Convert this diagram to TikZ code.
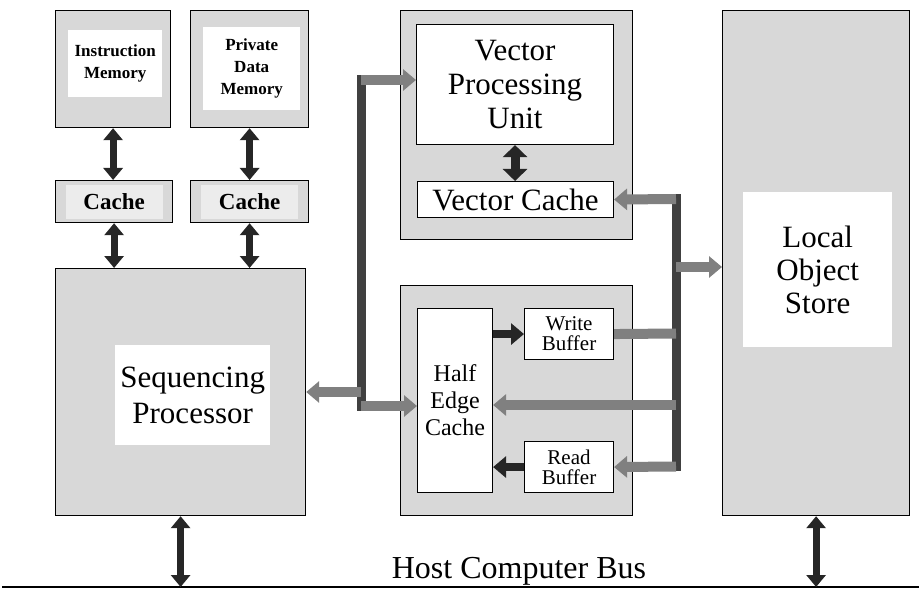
\documentclass[tikz,border=0pt]{standalone}
\usepackage{fontspec}
\setmainfont{Liberation Serif}
\usetikzlibrary{arrows.meta}
\definecolor{boxgray}{RGB}{216,216,216}
\definecolor{cachefill}{RGB}{236,236,236}
\begin{document}
\begin{tikzpicture}[x=1pt,y=-1pt,
  grp/.style={draw=black, line width=1.2pt, fill=boxgray, inner sep=0pt, anchor=north west},
  wht/.style={fill=white, inner sep=0pt, anchor=north west, align=center},
  wbox/.style={draw=black, line width=1.1pt, fill=white, inner sep=0pt, anchor=north west, align=center},
  big/.style={font=\fontsize{31}{34}\selectfont},
  small/.style={font=\fontsize{17}{22}\bfseries\selectfont},
  blk/.style={line width=7pt, draw=black!85, {Triangle[length=12pt,width=19pt]}-{Triangle[length=12pt,width=19pt]}},
  vbus/.style={line width=9pt, draw=black!75, line cap=rect},
  hbus/.style={line width=10pt, draw=black!50},
  htip/.style={-{Triangle[length=13pt,width=21pt]}},
]
\useasboundingbox (0,0) rectangle (919,591);

% left column
\node[grp, minimum width=115pt, minimum height=117pt] (im) at (55,10) {};
\node[wht, minimum width=94pt, minimum height=67pt, small] (imw) at (68,30) {Instruction\\Memory};
\node[grp, minimum width=118pt, minimum height=117pt] (pdm) at (190,10) {};
\node[wht, minimum width=97pt, minimum height=83pt, small] (pdmw) at (203,27) {Private\\Data\\Memory};

\node[grp, minimum width=117pt, minimum height=42pt] (c1) at (55,180) {};
\node[inner sep=0pt, fill=cachefill, minimum width=97pt, minimum height=34pt, font=\fontsize{23}{26}\bfseries\selectfont] (c1t) at (c1.center) {Cache};
\node[grp, minimum width=118pt, minimum height=42pt] (c2) at (190,180) {};
\node[inner sep=0pt, fill=cachefill, minimum width=97pt, minimum height=34pt, font=\fontsize{23}{26}\bfseries\selectfont] (c2t) at (c2.center) {Cache};

\node[grp, minimum width=250pt, minimum height=247pt] (sp) at (55,268) {};
\node[wht, minimum width=155pt, minimum height=100pt, font=\fontsize{31}{36}\selectfont] (spw) at (115,345) {Sequencing\\Processor};

% vector group
\node[grp, minimum width=232pt, minimum height=229pt] (vg) at (400,10) {};
\node[wbox, minimum width=197pt, minimum height=120pt, big] (vpu) at (416,24) {Vector\\Processing\\Unit};
\node[wbox, minimum width=196pt, minimum height=36pt, big] (vc) at (417,181) {Vector Cache};

% half edge group
\node[grp, minimum width=232pt, minimum height=230pt] (hg) at (400,285) {};
\node[wbox, minimum width=75pt, minimum height=184pt, font=\fontsize{24}{27}\selectfont] (hec) at (417,308) {Half\\Edge\\Cache};
\node[wbox, minimum width=89pt, minimum height=51pt, font=\fontsize{21}{20}\selectfont] (wb) at (524,308) {Write\\Buffer};
\node[wbox, minimum width=89pt, minimum height=51pt, font=\fontsize{21}{20}\selectfont] (rb) at (524,441) {Read\\Buffer};

% local object store
\node[grp, minimum width=187pt, minimum height=505pt] (los) at (722,10) {};
\node[wht, minimum width=149pt, minimum height=155pt, font=\fontsize{31}{33}\selectfont] (losw) at (743,192) {Local\\Object\\Store};

% host bus
\coordinate (busL) at (2,587);
\coordinate (busR) at (919,587);
\draw[line width=2pt] (busL) -- (busR);
\node[font=\fontsize{32}{34}\selectfont] (bust) at (519,571) {Host Computer Bus};

% black double arrows
\draw[blk] (im.south) -- (im.south |- c1.north);
\draw[blk] (c1.south) -- (c1.south |- sp.north);
\draw[blk] (pdm.south) -- (pdm.south |- c2.north);
\draw[blk] (c2.south) -- (c2.south |- sp.north);
\draw[blk, line width=9pt, {Triangle[length=12pt,width=24pt]}-{Triangle[length=12pt,width=24pt]}] (vpu.south) -- (vpu.south |- vc.north);
\draw[blk] (sp.south) -- (sp.south |- busL);
\draw[blk] (los.south) -- (los.south |- busL);

% internal half edge arrows
\draw[line width=8pt, draw=black!85, htip] (wb.west -| hec.east) -- (wb.west);
\draw[line width=8pt, draw=black!85, htip] (rb.west) -- (rb.west -| hec.east);

% left bus
\coordinate (lbt) at (361,80);
\coordinate (lbm) at (361,392);
\coordinate (lbb) at (361,406);
\draw[vbus] (lbt) -- (lbb);
\draw[hbus, htip] (lbt) -- (lbt -| vpu.west);
\draw[hbus, htip] (lbm) -- (lbm -| sp.east);
\draw[hbus, htip] (lbb) -- (lbb -| hec.west);

% right bus
\coordinate (rbt) at (676,199);
\coordinate (rbl) at (676,267);
\coordinate (rbw) at (676,333.5);
\coordinate (rbm) at (676,405);
\coordinate (rbr) at (676,466.5);
\draw[vbus] (rbt) -- (rbr);
\draw[hbus, htip] (rbt) -- (vc.east);
\draw[hbus, htip] (rbl) -- (rbl -| los.west);
\draw[hbus] (wb.east) -- (rbw);
\draw[hbus, htip] (rbm) -- (rbm -| hec.east);
\draw[hbus, htip] (rbr) -- (rb.east);
\end{tikzpicture}
\end{document}
